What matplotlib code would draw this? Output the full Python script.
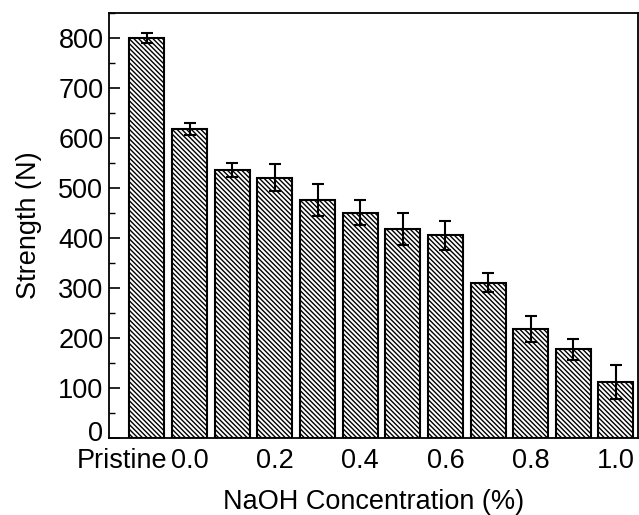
import matplotlib
matplotlib.use("Agg")
import matplotlib.pyplot as plt
import matplotlib.transforms as mtransforms
import numpy as np

categories = ["Pristine", "0.0", "0.1", "0.2", "0.3", "0.4", "0.5", "0.6", "0.7", "0.8", "0.9", "1.0"]
strength = [800, 618, 535, 520, 476, 450, 418, 405, 310, 218, 178, 112]
errors = [10, 12, 14, 27, 32, 25, 32, 29, 19, 26, 21, 34]
tick_labels = ["Pristine", "0.0", "0.2", "0.4", "0.6", "0.8", "1.0"]
tick_index = [0, 1, 3, 5, 7, 9, 11]

plt.rcParams['font.family'] = ['Liberation Sans', 'DejaVu Sans']
plt.rcParams['hatch.linewidth'] = 1.0

fig = plt.figure(figsize=(6.39, 5.15), dpi=100)
ax = fig.add_axes([0.1706, 0.1495, 0.998 - 0.1706, 0.9748 - 0.1495])

x = np.arange(len(categories))
ax.bar(x, strength, width=0.82, color='white', edgecolor='black', linewidth=1.5,
       hatch='\\' * 7, zorder=2)
ax.errorbar(x, strength, yerr=errors, fmt='none', ecolor='black', elinewidth=1.5,
            capsize=4.5, capthick=1.5, zorder=3)

ax.set_xlim(-0.89, 11.51)
ax.set_ylim(0, 850)
ax.set_yticks(np.arange(0, 801, 100))
ax.set_yticks(np.arange(50, 851, 100), minor=True)
ax.set_xticks(tick_index)
ax.set_xticklabels(tick_labels)

ax.tick_params(axis='y', which='major', direction='in', length=8, width=1.2, labelsize=19.5, pad=4)
ax.tick_params(axis='y', which='minor', direction='in', length=4, width=1.0)
ax.tick_params(axis='x', which='major', direction='in', length=5, width=1.0, labelsize=19.5, pad=7)

for sp in ax.spines.values():
    sp.set_linewidth(1.3)

# shift "Pristine" label left, "0" y-label up a bit
lbl = ax.get_xticklabels()[0]
lbl.set_transform(lbl.get_transform() + mtransforms.ScaledTranslation(-0.245, 0, fig.dpi_scale_trans))
ylbl0 = ax.get_yticklabels()[0]
ylbl0.set_transform(ylbl0.get_transform() + mtransforms.ScaledTranslation(0, 0.07, fig.dpi_scale_trans))

ax.set_ylabel("Strength (N)", fontsize=19.5, labelpad=12)
ax.set_xlabel("NaOH Concentration (%)", fontsize=19.5, labelpad=11)

fig.savefig("out.png", dpi=100)
